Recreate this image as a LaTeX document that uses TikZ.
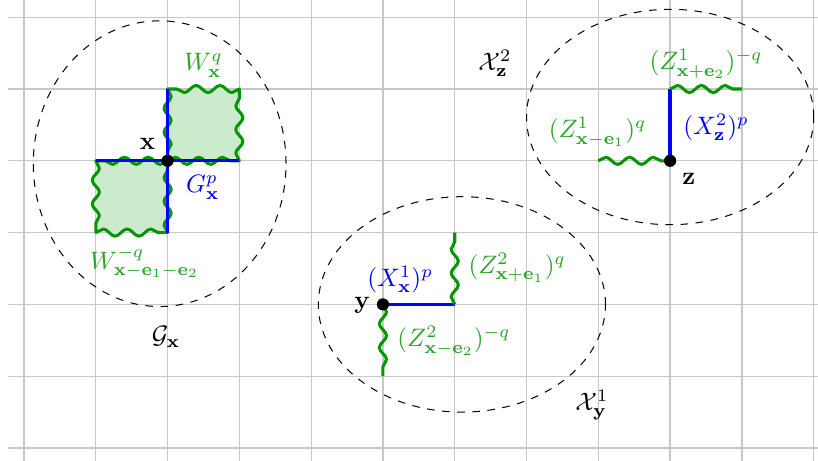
\documentclass[tikz,border=0pt]{standalone}
\usepackage{amsmath,amssymb}
\usepackage{tikz}
\usetikzlibrary{positioning,backgrounds,decorations.pathmorphing}
\definecolor{latgreen}{RGB}{0,150,0}
\definecolor{labgreen}{RGB}{40,165,40}
\definecolor{latblue}{RGB}{0,0,255}
\tikzset{
  % gitter och punkter
  gridl/.style={draw=black!22,line width=0.5pt},
  pt/.style={circle,fill=black,inner sep=0pt,minimum size=1.7mm},
  bond/.style={draw=latblue,line width=1.3pt},
  wavdec/.style={decoration={snake,amplitude=0.5mm,segment length=3.32mm}},
  wav/.style={draw=latgreen,line width=1.2pt,wavdec,decorate},
  plaq/.style={draw=latgreen,line width=1.2pt,line join=round,wavdec,fill=latgreen!20},
  region/.style={draw=black,dashed,line width=0.4pt},
  gl/.style={text=labgreen,inner sep=1pt},
  bl/.style={text=latblue,inner sep=1pt},
}

\begin{document}
\begin{tikzpicture}
  \useasboundingbox (-0.334,-0.181) rectangle (11.06,6.24);
  % punkter
  \node[pt] (x) at (2,4) {};
  \node[pt] (y) at (5,2) {};
  \node[pt] (z) at (9,4) {};
  \coordinate (xw) at (1,4);
  \coordinate (xe) at (3,4);
  \coordinate (xn) at (2,5);
  \coordinate (xs) at (2,3);
  \coordinate (xne) at (3,5);
  \coordinate (xsw) at (1,3);
  \coordinate (ye) at (6,2);
  \coordinate (yen) at (6,3);
  \coordinate (ys) at (5,1);
  \coordinate (zn) at (9,5);
  \coordinate (zne) at (10,5);
  \coordinate (zw) at (8,4);
  \begin{scope}[on background layer]
  \draw[gridl] (-0.22,-0.25) grid (11.2,6.3);
  \draw[region] (1.89,3.96) ellipse [x radius=1.76,y radius=1.99];
  \draw[region] (6.1,2.0) ellipse [x radius=2.0,y radius=1.5];
  \draw[region] (9.0,4.61) ellipse [x radius=2.0,y radius=1.5];
  \draw[plaq] (x.center) decorate{-- (xe)} decorate{-- (xne)}
    decorate{-- (xn)} decorate{-- (x.center)} -- cycle;
  \draw[plaq] (xsw) decorate{-- (xs)} decorate{-- (x.center)}
    decorate{-- (xw)} decorate{-- (xsw)} -- cycle;
  \draw[bond] (xw) -- (xe);
  \draw[bond] (xs) -- (xn);
  \draw[bond] (y.center) -- (ye);
  \draw[wav] (ye) -- (yen);
  \draw[wav] (y.center) -- (ys);
  \draw[bond] (z.center) -- (zn);
  \draw[wav] (zn) -- (zne);
  \draw[wav] (zw) -- (z.center);
  \end{scope}
  % etiketter
  \node (xl) at (1.72,4.23) {$\mathbf{x}$};
  \node (yl) at (4.71,1.99) {$\mathbf{y}$};
  \node (zl) at (9.26,3.75) {$\mathbf{z}$};
  \node[gl] (wq) at (2.5,5.33) {$W^{q}_{\mathbf{x}}$};
  \node[gl] (wmq) at (1.68,2.59) {$W^{-q}_{\mathbf{x}-\mathbf{e}_1-\mathbf{e}_2}$};
  \node[bl] (gp) at (2.49,3.63) {$G^{p}_{\mathbf{x}}$};
  \node (gx) at (1.98,1.55) {$\mathcal{G}_{\mathbf{x}}$};
  \node[bl] (x1) at (5.24,2.35) {$(X^1_{\mathbf{x}})^p$};
  \node[gl] (z2a) at (6.87,2.51) {$(Z^2_{\mathbf{x}+\mathbf{e}_1})^q$};
  \node[gl] (z2b) at (5.99,1.49) {$(Z^2_{\mathbf{x}-\mathbf{e}_2})^{-q}$};
  \node (xy) at (7.91,0.6) {$\mathcal{X}^1_{\mathbf{y}}$};
  \node (xz) at (6.56,5.36) {$\mathcal{X}^2_{\mathbf{z}}$};
  \node[gl] (z1a) at (9.5,5.35) {$(Z^1_{\mathbf{x}+\mathbf{e}_2})^{-q}$};
  \node[bl] (x2) at (9.64,4.47) {$(X^2_{\mathbf{z}})^p$};
  \node[gl] (z1b) at (7.99,4.40) {$(Z^1_{\mathbf{x}-\mathbf{e}_1})^q$};
\end{tikzpicture}
\end{document}
